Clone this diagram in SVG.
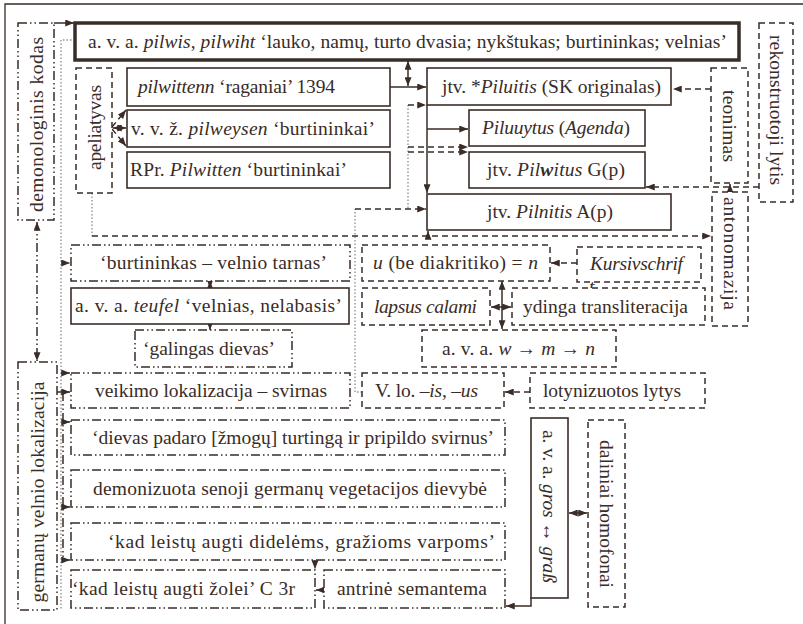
<svg xmlns="http://www.w3.org/2000/svg" width="803" height="624" viewBox="0 0 803 624">
<defs>
<style>
.t{font-family:"Liberation Serif","DejaVu Serif",serif;font-size:19.5px;fill:#3a2c26}
.c{text-anchor:middle}
.i{font-style:italic}
.b{fill:#fff;stroke:#3a2c26;stroke-width:1.6}
.d{fill:#fff;stroke:#3a2c26;stroke-width:1.5;stroke-dasharray:6,4}
.dd{fill:#fff;stroke:#3a2c26;stroke-width:1.5;stroke-dasharray:9,3,1.5,3,1.5,3}
.l{fill:none;stroke:#3a2c26;stroke-width:1.5}
.ld{fill:none;stroke:#3a2c26;stroke-width:1.5;stroke-dasharray:6,4}
.ldd{fill:none;stroke:#3a2c26;stroke-width:1.5;stroke-dasharray:9,3,1.5,3,1.5,3}
.lg{fill:none;stroke:#8c8c8c;stroke-width:1.3;stroke-dasharray:1.5,2}
.ae{marker-end:url(#ah)}
.as{marker-start:url(#ah)}
</style>
<marker id="ah" viewBox="0 0 10 8" refX="10" refY="4" markerWidth="9" markerHeight="7" markerUnits="userSpaceOnUse" orient="auto-start-reverse"><path d="M0,0 L10,4 L0,8 z" fill="#3a2c26"/></marker>
</defs>
<rect width="803" height="624" fill="#fff"/>
<path d="M5,624 V4 H803" fill="none" stroke="#3a2c26" stroke-width="1.3"/>

<g id="connectors">
<path class="l ae" d="M54,23 H74"/>
<path class="lg" d="M75,40 H61 V610"/>
<path class="lg ae" d="M61,263 H70"/>
<path class="ldd as ae" d="M37,222 V361"/>
<path class="ldd ae" d="M61,373 H70"/>
<path class="l ae" d="M57,392 H70"/>
<path class="ldd" d="M63,392 V560"/>
<path class="ldd ae" d="M63,422 H70"/>
<path class="ldd ae" d="M63,507 H70"/>
<path class="ldd ae" d="M63,560 H70"/>
<path class="ld ae" d="M112,127 L126,110"/>
<path class="ld as ae" d="M113,128 H126"/>
<path class="ld ae" d="M112,129 L126,146"/>
<path class="l as ae" d="M408,61 V86"/>
<path class="l ae" d="M390,87 H426"/>
<path class="l ae" d="M427,105 V193"/>
<path class="l ae" d="M427,129 H468"/>
<path class="lg" d="M408,105 V209"/>
<path class="ld ae" d="M408,105 H426"/>
<path class="ld ae" d="M408,147 H468"/>
<path class="ld ae" d="M408,152 H468"/>
<path class="lg" d="M362,392 H355 V209"/>
<path class="ld ae" d="M355,209 H426"/>
<path class="lg" d="M92,193 V236"/>
<path class="ld ae" d="M92,236 H711"/>
<path class="l ae" d="M428,236 V231"/>
<path class="ld ae" d="M711,89 H673"/>
<path class="ld ae" d="M759,187 H646"/>
<path class="l ae" d="M730,192 V184"/>
<path class="l as ae" d="M210,281 V288"/>
<path class="l ae" d="M210,324 V330"/>
<path class="ld ae" d="M577,263 H551"/>
<path class="l as ae" d="M502,281 V329"/>
<path class="l as ae" d="M491,307 H511"/>
<path class="ld ae" d="M530,392 H505"/>
<path class="lg ae" d="M315,560 V569"/>
<path class="l ae" d="M324,590 H316"/>
<path class="l ae" d="M531,598 V606 H506"/>
<path class="l as ae" d="M569,513 H587"/>
</g>

<g id="n_top"><rect x="75" y="23" width="664" height="37" fill="#fff" stroke="#3a2c26" stroke-width="3.5"/><text class="t c" x="407.5" y="48" textLength="639">a. v. a. <tspan class="i">pilwis</tspan>, <tspan class="i">pilwiht</tspan> ‘lauko, namų, turto dvasia; nykštukas; burtininkas; velnias’</text></g>
<g id="n_demon"><rect class="dd" x="18" y="23" width="36" height="197"/><text class="t c" transform="translate(42.5,124.5) rotate(-90)" textLength="175">demonologinis kodas</text></g>
<g id="n_apel"><rect class="d" x="76" y="68" width="36" height="125"/><text class="t c" transform="translate(100.5,127.5) rotate(-90)" textLength="85">apeliatyvas</text></g>
<g id="n_pilwittenn"><rect class="b" x="127" y="68" width="263" height="38"/><text class="t" x="138" y="93" textLength="197"><tspan class="i">pilwittenn</tspan> ‘raganiai’ 1394</text></g>
<g id="n_pilweysen"><rect class="b" x="127" y="110" width="263" height="37"/><text class="t" x="131" y="135" textLength="244">v. v. ž. <tspan class="i">pilweysen</tspan> ‘burtininkai’</text></g>
<g id="n_rpr"><rect class="b" x="127" y="152" width="263" height="36"/><text class="t" x="130" y="176" textLength="217">RPr. <tspan class="i">Pilwitten</tspan> ‘burtininkai’</text></g>
<g id="n_piluitis"><rect class="b" x="427" y="68" width="244" height="37"/><text class="t c" x="551.5" y="93" textLength="219">jtv. *<tspan class="i">Piluitis</tspan> (SK originalas)</text></g>
<g id="n_piluuytus"><rect class="b" x="469" y="110" width="176" height="36"/><text class="t c" x="556" y="134" textLength="148"><tspan class="i">Piluuytus</tspan> (<tspan class="i">Agenda</tspan>)</text></g>
<g id="n_pilwitus"><rect class="b" x="469" y="152" width="176" height="36"/><text class="t c" x="556" y="176" textLength="138">jtv. <tspan class="i">Pil</tspan><tspan class="i" font-weight="bold">w</tspan><tspan class="i">itus</tspan> G(p)</text></g>
<g id="n_pilnitis"><rect class="b" x="427" y="194" width="244" height="36"/><text class="t c" x="550" y="218" textLength="126">jtv. <tspan class="i">Pilnitis</tspan> A(p)</text></g>
<g id="n_teonimas"><rect class="d" x="711" y="68" width="37" height="115"/><text class="t c" transform="translate(723,126) rotate(90)" textLength="72">teonimas</text></g>
<g id="n_rekon"><rect class="d" x="759" y="23" width="34" height="179"/><text class="t c" transform="translate(769.5,110) rotate(90)" textLength="150">rekonstruotoji lytis</text></g>
<g id="n_anton"><rect class="d" x="712" y="192" width="36" height="134"/><text class="t c" transform="translate(723.5,253.5) rotate(90)" textLength="113">antonomazija</text></g>
<g id="n_burt"><rect class="dd" x="71" y="245" width="279" height="36"/><text class="t c" x="213.5" y="269" textLength="227">‘burtininkas – velnio tarnas’</text></g>
<g id="n_teufel"><rect class="b" x="71" y="288" width="278" height="36"/><text class="t c" x="208.5" y="312" textLength="267">a. v. a. <tspan class="i">teufel</tspan> ‘velnias, nelabasis’</text></g>
<g id="n_galingas"><rect class="dd" x="135" y="330" width="157" height="37"/><text class="t c" x="209" y="354.5" textLength="132">‘galingas dievas’</text></g>
<g id="n_u"><rect class="d" x="362" y="245" width="188" height="36"/><text class="t c" x="455.5" y="269" textLength="165"><tspan class="i">u</tspan> (be diakritiko) = <tspan class="i">n</tspan></text></g>
<g id="n_kursiv"><rect class="d" x="577" y="247" width="124" height="35"/><text class="t c i" x="636.5" y="270" textLength="93">Kursivschrif</text><text class="t i" x="589" y="293">t</text></g>
<g id="n_ydinga"><rect class="d" x="512" y="288" width="193" height="37"/><text class="t c" x="605.5" y="312.5" textLength="165">ydinga transliteracija</text></g>
<g id="n_lapsus"><rect class="d" x="362" y="288" width="128" height="37"/><text class="t c i" x="425.5" y="312.5" textLength="103">lapsus calami</text></g>
<g id="n_wmn"><rect class="d" x="422" y="330" width="194" height="37"/><text class="t c" x="518.5" y="354.5" textLength="153">a. v. a. <tspan class="i">w</tspan> → <tspan class="i">m</tspan> → <tspan class="i">n</tspan></text></g>
<g id="n_veik"><rect class="dd" x="71" y="373" width="279" height="35"/><text class="t c" x="211" y="396.5" textLength="232">veikimo lokalizacija – svirnas</text></g>
<g id="n_vlo"><rect class="d" x="362" y="373" width="142" height="35"/><text class="t c" x="426.5" y="396.5" textLength="103">V. lo. –<tspan class="i">is</tspan>, –<tspan class="i">us</tspan></text></g>
<g id="n_lot"><rect class="d" x="530" y="373" width="175" height="35"/><text class="t c" x="612" y="396.5" textLength="138">lotynizuotos lytys</text></g>
<g id="n_german"><rect class="dd" x="18" y="362" width="39" height="248"/><text class="t c" transform="translate(44,492) rotate(-90)" textLength="221">germanų velnio lokalizacija</text></g>
<g id="n_dievas"><rect class="dd" x="71" y="420" width="434" height="35"/><text class="t c" x="293" y="443.5" textLength="402">‘dievas padaro [žmogų] turtingą ir pripildo svirnus’</text></g>
<g id="n_demoniz"><rect class="dd" x="71" y="470" width="434" height="37"/><text class="t c" x="290" y="494.5" textLength="394">demonizuota senoji germanų vegetacijos dievybė</text></g>
<g id="n_didel"><rect class="dd" x="71" y="523" width="434" height="37"/><text class="t c" x="301.5" y="547.5" textLength="387">‘kad leistų augti didelėms, gražioms varpoms’</text></g>
<g id="n_zolei"><rect class="dd" x="71" y="570" width="244" height="38"/><text class="t c" x="183.5" y="595" textLength="223">‘kad leistų augti žolei’ C 3r</text></g>
<g id="n_antr"><rect class="dd" x="324" y="570" width="181" height="38"/><text class="t c" x="412" y="595" textLength="150">antrinė semantema</text></g>
<g id="n_gros"><rect class="b" x="531" y="418" width="37" height="180"/><text class="t c" transform="translate(543,506.5) rotate(90)" textLength="153">a. v. a. <tspan class="i">gros</tspan> ↔ <tspan class="i">graß</tspan></text></g>
<g id="n_dalin"><rect class="d" x="588" y="420" width="37" height="187"/><text class="t c" transform="translate(600,514) rotate(90)" textLength="148">daliniai homofonai</text></g>
</svg>
